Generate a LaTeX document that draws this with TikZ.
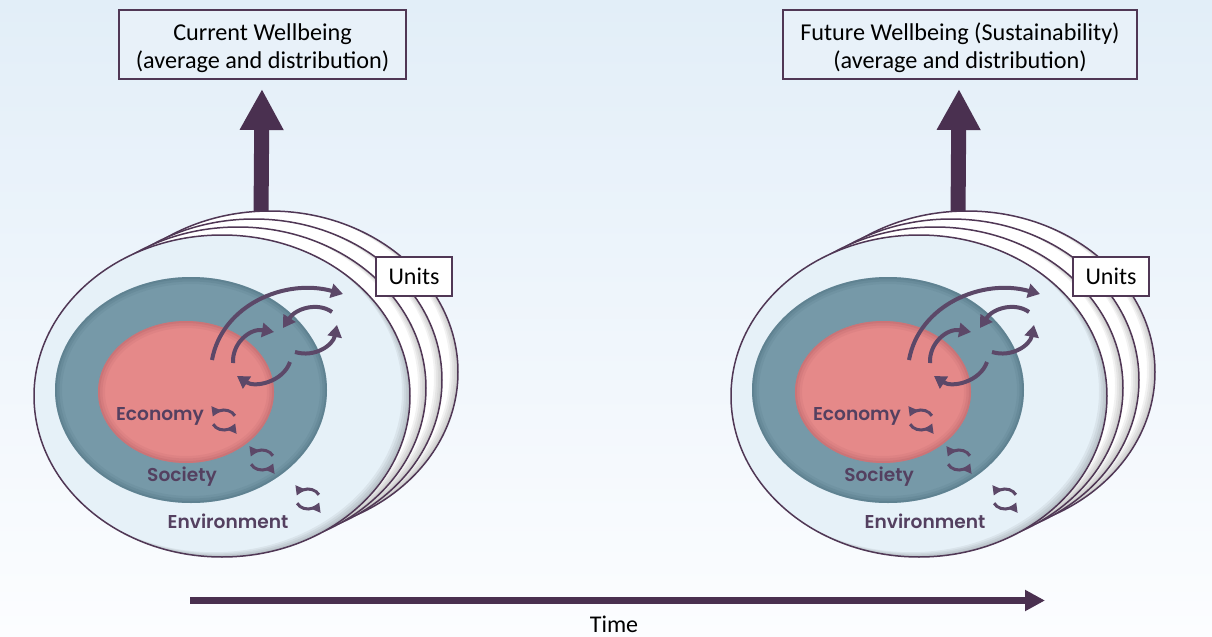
\documentclass[tikz,border=0pt]{standalone}
\usepackage{fontspec}
\setmainfont{Carlito}
\newfontfamily\lblfont{Poppins}[BoldFont={Poppins SemiBold}]
\usetikzlibrary{arrows.meta,calc}
\definecolor{bgtop}{RGB}{226,238,248}
\definecolor{bgbot}{RGB}{252,253,255}
\definecolor{boxfill}{RGB}{232,241,249}
\definecolor{edge}{RGB}{80,55,85}
\definecolor{envfill}{RGB}{230,241,248}
\definecolor{socfill}{RGB}{118,153,168}
\definecolor{socdark}{RGB}{60,95,112}
\definecolor{ecofill}{RGB}{229,137,137}
\definecolor{ecodark}{RGB}{165,85,92}
\definecolor{arrowc}{RGB}{92,72,104}
\definecolor{bigarrowc}{RGB}{74,48,80}
\definecolor{lblc}{RGB}{84,64,96}
\newcommand\myglow[5]{%
  \begin{scope}
    \clip (#1,#2) ellipse [x radius=#3, y radius=#4];
    \foreach \w/\o in {7pt/0.10,4.5pt/0.14,2pt/0.2}{
      \draw[#5, line width=\w, opacity=\o] (#1,#2) ellipse [x radius=#3, y radius=#4];
    }
  \end{scope}}
\newcommand\mycrescent[6]{%
  \begin{scope}
    \clip (#1,#2) ellipse [x radius=#3, y radius=#4];
    \foreach \d in {1,2,3,4}{
      \fill[black, opacity=0.05, even odd rule] (#1,#2) ellipse [x radius=#3, y radius=#4]
        ({#1-#5*\d},{#2-#6*\d}) ellipse [x radius=#3, y radius=#4];
    }
  \end{scope}}
\newcommand\boxtext[2]{\raisebox{-2pt}[\height][\depth]{\begin{tabular}{@{}c@{}}#1\\#2\end{tabular}}}
\begin{document}
\begin{tikzpicture}[x=0.5pt,y=-0.5pt,
  wbox/.style={draw=edge, line width=0.6pt, fill=boxfill, inner sep=0pt,
    minimum height=34.5pt, align=center, font=\fontsize{12.1}{14}\selectfont},
  unitbox/.style={draw=edge, line width=0.6pt, fill=white, inner sep=0pt,
    minimum width=38pt, minimum height=19.5pt, font=\fontsize{12}{14}\selectfont},
  upar/.style={bigarrowc, line width=7.5pt, -{Triangle[length=20.5pt,width=20.5pt]}},
  timear/.style={bigarrowc, line width=3.5pt, -{Triangle[length=10pt,width=10pt]}},
  flow/.style={arrowc, line width=2pt, -{Triangle[length=6pt,width=7pt]}},
  cyc/.style={arrowc, line width=1.5pt, -{Triangle[length=4.5pt,width=5pt]}},
  lbl/.style={text=lblc, font=\lblfont\bfseries\fontsize{9.3}{11}\selectfont},
  disk/.style={draw=edge, line width=0.75pt}
]
\useasboundingbox (0,0) rectangle (1212,637);
\shade[top color=bgtop, bottom color=bgbot] (0,0) rectangle (1212,637);

% top boxes
\node[wbox, minimum width=143.5pt] (cur) at (262.5,44.5) {\boxtext{Current Wellbeing}{(average and distribution)}};
\node[wbox, minimum width=177pt] (fut) at (960,44.5) {\boxtext{Future Wellbeing (Sustainability)}{(average and distribution)}};

\foreach \s/\n in {0/L,697/R}{
\begin{scope}[shift={(\s,0)}]
  % up arrow
  \coordinate (up0\n) at (261,218);
  \coordinate (up1\n) at (262,89);
  \draw[upar] (up0\n) -- (up1\n);
  % stacked unit disks
  \foreach \k in {3,2,1}{
    \fill[white] (222+16*\k,396-8*\k) ellipse [x radius=188, y radius=161];
    \mycrescent{222+16*\k}{396-8*\k}{188}{161}{2}{0.6}
    \draw[disk] (222+16*\k,396-8*\k) ellipse [x radius=188, y radius=161];
  }
  % environment
  \fill[envfill] (222,396) ellipse [x radius=188, y radius=161];
  \mycrescent{222}{396}{188}{161}{2}{1.2}
  \draw[disk] (222,396) ellipse [x radius=188, y radius=161];
  % society
  \fill[socfill] (191,390) ellipse [x radius=136, y radius=113];
  \myglow{191}{390}{136}{113}{socdark}
  % economy
  \fill[ecofill] (186,392) ellipse [x radius=88, y radius=71];
  \myglow{186}{392}{88}{71}{ecodark}
  % labels
  \node[lbl] (eco\n) at (160,416) {Economy};
  \node[lbl] (soc\n) at (182,477) {Society};
  \node[lbl] (env\n) at (228,521) {Environment};
  % units
  \node[unitbox] (units\n) at (414,276.5) {Units};
  % flows
  \draw[flow] (212,360) .. controls (222,305) and (285,278) .. (343,294);
  \draw[flow] (233,363) .. controls (232,343) and (250,328) .. (274,332);
  \draw[flow] (332,312) .. controls (318,302) and (296,308) .. (283,328);
  \draw[flow] (295,352) .. controls (315,358) and (333,345) .. (337,325);
  \draw[flow] (290,362) .. controls (283,382) and (255,388) .. (237,376);
  % cycles
  \foreach \cx/\cy in {224/420, 262/460, 308/499}{
    \draw[cyc] ([shift={(-25:12 and 10)}]\cx,\cy) arc [start angle=-25, end angle=-160, x radius=12, y radius=10];
    \draw[cyc] ([shift={(-205:12 and 10)}]\cx,\cy) arc [start angle=-205, end angle=-340, x radius=12, y radius=10];
  }
\end{scope}
}

% time axis
\coordinate (t0) at (190,600.5);
\coordinate (t1) at (1045,600.5);
\draw[timear] (t0) -- (t1);
\node[font=\fontsize{12}{14}\selectfont] (time) at (614,624) {Time};
\end{tikzpicture}
\end{document}
